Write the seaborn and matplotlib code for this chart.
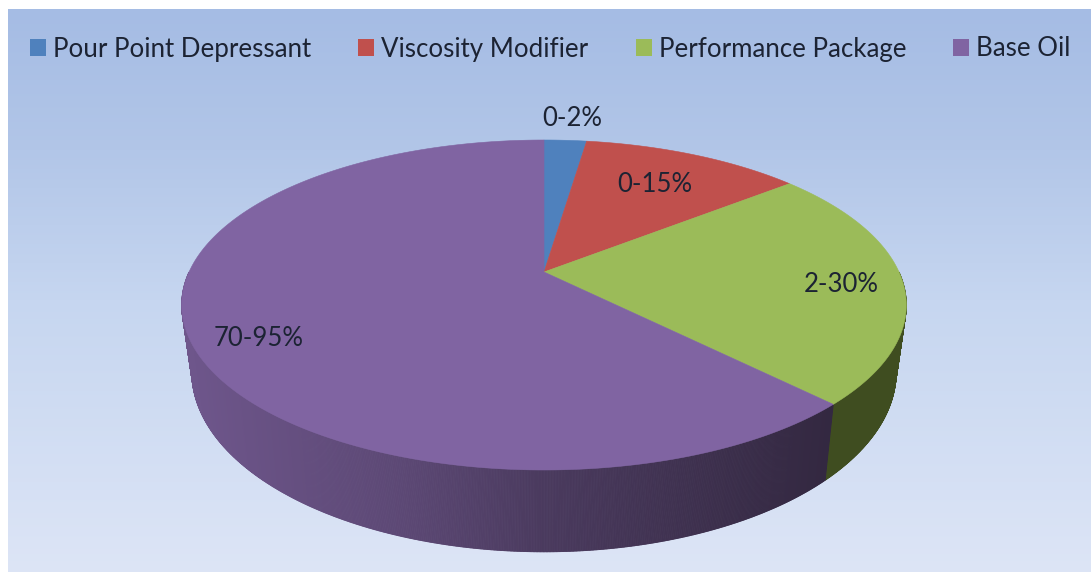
import numpy as np
import seaborn as sns
from matplotlib import pyplot as plt
from matplotlib.collections import PolyCollection
from matplotlib.patches import Patch, Polygon

categories = ['Pour Point Depressant', 'Viscosity Modifier', 'Performance Package', 'Base Oil']
shares = [2.3, 11.9, 23.5, 62.3]
range_labels = ['0-2%', '0-15%', '2-30%', '70-95%']
top_colors = ['#4f81bd', '#c0504d', '#9bbb59', '#8064a2']

sns.set_theme(style='white')
plt.rcParams['font.family'] = ['Lato', 'DejaVu Sans']
palette = sns.color_palette(top_colors)

# pixel geometry of the tilted disc
CX, CY = 544, 272
BX, AY, K = 355, 158.4, 0.2
LABEL_XY = [(572, 119), (655, 184), (841, 284), (259, 339)]
TEXT_COLOR = '#1c2333'


def project(theta, radius=1.0):
    # theta is clockwise from twelve o'clock
    u = radius * np.sin(theta)
    v = radius * np.cos(theta)
    d = 1 + K * v
    return CX + BX * u / d, CY - AY * v / d


def project_bottom(theta):
    x, y = project(theta)
    return CX + 0.972 * (x - CX), 336 + 1.09 * (y - CY)


def wall_shade(x, base):
    # side wall gets darker from left to right
    f = np.interp(x, [185, 400, 544, 830, 905], [0.86, 0.72, 0.58, 0.40, 0.40])
    return tuple(c * f for c in base)


fig, ax = plt.subplots(figsize=(10.91, 5.72), dpi=100)
ax.set_position([0, 0, 1, 1])
ax.set_xlim(0, 1091)
ax.set_ylim(572, 0)
ax.axis('off')

rows = np.arange(9, 572)
grad = np.zeros((len(rows), 1, 3))
grad[:, 0, 0] = np.interp(rows, [9, 150, 300, 572], [165, 178, 198, 221]) / 255
grad[:, 0, 1] = np.interp(rows, [9, 150, 300, 572], [188, 198, 214, 229]) / 255
grad[:, 0, 2] = np.interp(rows, [9, 150, 300, 572], [228, 232, 240, 246]) / 255
ax.imshow(grad, extent=(8, 1091, 572, 9), aspect='auto', zorder=0)

edges = np.cumsum([0] + shares) / sum(shares) * 2 * np.pi

# side wall first, only the front half shows
quads, quad_colors = [], []
for start, stop, color, name in zip(edges[:-1], edges[1:], palette, categories):
    steps = np.linspace(start, stop, max(int((stop - start) * 300), 3))
    for t0, t1 in zip(steps[:-1], steps[1:]):
        if np.cos(t0) > 0 or np.cos(t1) > 0:
            continue
        x0, y0 = project(t0)
        x1, y1 = project(t1)
        x2, y2 = project_bottom(t1)
        x3, y3 = project_bottom(t0)
        quads.append([(x0, y0), (x1, y1), (x2, y2), (x3, y3)])
        if name == 'Performance Package':
            quad_colors.append((0.247, 0.302, 0.125))
        else:
            quad_colors.append(wall_shade((x0 + x1) / 2, color))
ax.add_collection(PolyCollection(quads, facecolors=quad_colors, edgecolors=quad_colors,
                                 linewidths=0.6, zorder=2))

for start, stop, color in zip(edges[:-1], edges[1:], palette):
    t = np.linspace(start, stop, 200)
    x, y = project(t)
    pts = np.column_stack([np.r_[CX, x], np.r_[CY, y]])
    ax.add_patch(Polygon(pts, closed=True, facecolor=color, edgecolor=color, linewidth=0.4, zorder=3))

for text, (x, y) in zip(range_labels, LABEL_XY):
    ax.text(x, y, text, ha='center', va='center', fontsize=18.5, color=TEXT_COLOR, zorder=4)

handles = [Patch(facecolor=c, edgecolor='none', label=n) for c, n in zip(palette, categories)]
ax.legend(handles=handles, ncol=4, frameon=False, fontsize=18.65, loc='center left',
          bbox_to_anchor=(30, 49), bbox_transform=ax.transData, borderpad=0, borderaxespad=0,
          handlelength=0.62, handleheight=0.62, handletextpad=0.27, columnspacing=1.82,
          labelcolor=TEXT_COLOR)

fig.savefig('out.png', dpi=100)
